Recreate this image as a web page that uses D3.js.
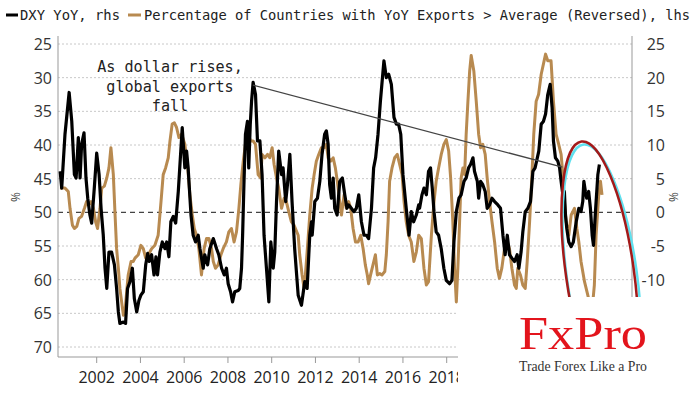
<!DOCTYPE html>
<html>
<head>
<meta charset="utf-8">
<script src="https://cdn.jsdelivr.net/npm/d3@7"></script>
<style>
  body { margin: 0; background: #fff; }
  svg { display: block; }
</style>
</head>
<body>
<svg id="chart" width="700" height="394"></svg>
<script>
/* ---------- data ---------- */
// later years sit under the logo panel in the original
const xTicks = [2002, 2004, 2006, 2008, 2010, 2012, 2014, 2016, 2018];
const leftTicks = [25, 30, 35, 40, 45, 50, 55, 60, 65, 70];
const rightTicks = [25, 20, 15, 10, 5, 0, -5, -10];

// DXY YoY, % (right axis)
const dxy = [
  [2000.33,6.1],[2000.40,3.6],[2000.55,11.6],[2000.74,17.8],[2000.86,13.5],[2000.98,5.6],[2001.06,5.1],
  [2001.16,11.1],[2001.24,5.1],[2001.31,10.1],[2001.42,11.8],[2001.51,5.1],[2001.59,2.1],[2001.69,-0.4],
  [2001.77,-1.6],[2001.89,3.6],[2002.00,8.8],[2002.11,5.6],[2002.20,0.6],[2002.30,-3.4],[2002.38,-8.3],
  [2002.46,-11.3],[2002.56,-5.9],[2002.68,-5.9],[2002.81,-7.8],[2002.91,-11.3],[2002.99,-14.8],[2003.06,-16.5],
  [2003.22,-16.3],[2003.32,-16.5],[2003.41,-11.3],[2003.52,-10.3],[2003.63,-8.3],[2003.72,-12.8],[2003.83,-14.8],
  [2003.93,-13.1],[2004.02,-12.3],[2004.13,-11.8],[2004.24,-7.8],[2004.33,-6.1],[2004.40,-7.3],[2004.51,-6.3],
  [2004.62,-9.3],[2004.71,-6.6],[2004.78,-9.3],[2004.89,-5.9],[2005.00,-4.4],[2005.12,-5.4],[2005.20,-4.4],
  [2005.30,-6.6],[2005.39,-1.4],[2005.50,-0.6],[2005.61,-1.6],[2005.73,3.1],[2005.91,12.6],[2006.03,6.6],
  [2006.11,9.1],[2006.18,6.6],[2006.31,-0.4],[2006.41,-3.4],[2006.52,-4.4],[2006.64,-3.4],[2006.72,-5.4],
  [2006.87,-8.3],[2006.94,-6.3],[2007.07,-7.8],[2007.17,-5.4],[2007.33,-3.9],[2007.48,-5.4],[2007.58,-6.3],
  [2007.71,-8.3],[2007.83,-9.3],[2007.93,-8.3],[2008.01,-10.6],[2008.12,-11.8],[2008.21,-13.3],[2008.31,-11.8],
  [2008.47,-11.6],[2008.54,-11.3],[2008.62,-8.3],[2008.67,-3.4],[2008.73,4.1],[2008.80,11.6],[2008.89,13.5],
  [2008.95,6.6],[2009.02,13.1],[2009.08,16.5],[2009.15,19.3],[2009.26,17.5],[2009.35,10.6],[2009.46,10.6],
  [2009.56,5.6],[2009.65,-3.4],[2009.76,-8.3],[2009.87,-13.3],[2009.96,-4.4],[2010.07,-8.3],[2010.14,-5.9],
  [2010.22,1.6],[2010.32,9.1],[2010.45,5.6],[2010.52,6.6],[2010.64,1.6],[2010.72,4.1],[2010.83,8.6],
  [2010.93,1.6],[2011.05,-5.4],[2011.21,-12.3],[2011.36,-13.8],[2011.51,-10.3],[2011.62,-11.3],[2011.74,-3.4],
  [2011.82,-1.4],[2011.85,-3.4],[2011.97,1.6],[2012.09,2.1],[2012.20,4.6],[2012.30,8.6],[2012.42,11.6],
  [2012.50,12.1],[2012.58,10.1],[2012.65,4.1],[2012.73,2.1],[2012.81,5.1],[2012.88,0.6],[2012.99,-0.4],
  [2013.11,4.6],[2013.23,5.1],[2013.34,2.6],[2013.44,0.6],[2013.52,1.1],[2013.64,0.6],[2013.76,0.1],
  [2013.87,0.6],[2013.98,2.6],[2014.10,-1.4],[2014.22,-3.4],[2014.33,-3.4],[2014.43,-3.9],[2014.56,0.6],
  [2014.66,6.6],[2014.75,8.1],[2014.86,11.6],[2014.97,16.5],[2015.13,22.5],[2015.24,20.0],[2015.35,20.5],
  [2015.47,19.0],[2015.59,14.1],[2015.70,13.1],[2015.80,13.1],[2015.90,11.6],[2016.00,5.6],[2016.15,0.6],
  [2016.28,-3.4],[2016.38,0.1],[2016.49,-1.4],[2016.61,-0.4],[2016.72,1.1],[2016.76,0.6],[2016.87,2.6],
  [2016.96,3.6],[2017.07,2.6],[2017.17,6.1],[2017.26,6.6],[2017.34,3.6],[2017.42,0.1],[2017.52,-2.9],
  [2017.63,-3.4],[2017.75,-5.4],[2017.87,-8.3],[2017.98,-10.1],[2018.13,-10.6],[2018.24,-10.1],[2018.33,-4.4],
  [2018.44,0.1],[2018.56,2.1],[2018.66,2.6],[2018.79,4.6],[2018.89,5.1],[2019.00,6.6],[2019.09,7.1],
  [2019.20,8.1],[2019.27,6.1],[2019.40,4.6],[2019.46,2.1],[2019.55,4.6],[2019.65,4.1],[2019.76,3.1],
  [2019.85,0.6],[2019.96,1.1],[2020.07,2.1],[2020.19,1.6],[2020.34,1.1],[2020.46,0.6],[2020.57,-3.4],
  [2020.67,-6.3],[2020.77,-3.4],[2020.87,-6.3],[2020.98,-6.8],[2021.10,-7.3],[2021.22,-6.3],[2021.30,-8.3],
  [2021.40,-5.9],[2021.48,-2.9],[2021.59,0.1],[2021.71,0.6],[2021.83,1.6],[2021.94,6.1],[2022.04,6.6],
  [2022.21,9.1],[2022.32,13.1],[2022.42,13.5],[2022.52,14.6],[2022.62,17.5],[2022.73,19.0],[2022.82,15.5],
  [2022.88,10.6],[2022.97,8.1],[2023.08,7.6],[2023.16,6.6],[2023.23,4.6],[2023.31,2.6],[2023.38,3.1],
  [2023.43,-0.4],[2023.49,-2.4],[2023.58,-4.4],[2023.69,-5.1],[2023.79,-4.4],[2023.92,-1.4],[2024.04,0.6],
  [2024.14,0.1],[2024.22,1.6],[2024.27,4.6],[2024.34,3.1],[2024.40,2.1],[2024.49,3.1],[2024.57,0.6],
  [2024.65,-3.4],[2024.71,-4.9],[2024.80,0.1],[2024.91,5.6],[2024.98,7.1]
];

// % of countries with YoY exports > average, reversed (left axis)
const exportsRev = [
  [2000.32,46.4],[2000.55,46.4],[2000.70,46.9],[2000.78,49.4],[2000.89,51.9],[2000.98,52.4],[2001.09,52.1],
  [2001.19,50.9],[2001.31,50.6],[2001.44,49.4],[2001.54,48.4],[2001.62,48.9],[2001.74,48.4],[2001.85,49.4],
  [2001.95,51.4],[2002.04,52.4],[2002.15,49.4],[2002.23,46.4],[2002.35,46.1],[2002.46,44.9],[2002.56,43.4],
  [2002.65,40.4],[2002.76,44.4],[2002.84,50.4],[2002.91,55.4],[2002.99,58.3],[2003.06,61.3],[2003.14,63.3],
  [2003.22,65.3],[2003.29,64.8],[2003.37,61.8],[2003.44,59.3],[2003.57,57.3],[2003.67,57.3],[2003.75,56.8],
  [2003.90,56.3],[2004.02,54.9],[2004.13,55.4],[2004.24,56.8],[2004.36,56.3],[2004.51,55.4],[2004.66,54.9],
  [2004.81,53.4],[2004.94,48.4],[2005.04,44.4],[2005.15,43.4],[2005.27,41.9],[2005.35,39.4],[2005.45,36.9],
  [2005.55,36.7],[2005.65,37.4],[2005.76,38.9],[2005.88,38.4],[2006.03,39.9],[2006.15,42.9],[2006.26,47.4],
  [2006.37,50.4],[2006.46,52.4],[2006.56,53.4],[2006.67,55.4],[2006.79,59.3],[2006.91,55.4],[2007.02,53.9],
  [2007.13,53.9],[2007.25,55.4],[2007.33,57.3],[2007.43,58.3],[2007.55,57.8],[2007.68,56.3],[2007.78,55.4],
  [2007.93,54.4],[2008.04,52.9],[2008.16,52.4],[2008.28,54.4],[2008.39,52.9],[2008.50,49.4],[2008.59,45.9],
  [2008.70,42.4],[2008.80,39.9],[2008.92,38.4],[2009.04,39.4],[2009.15,39.4],[2009.26,39.9],[2009.38,44.4],
  [2009.50,44.9],[2009.56,41.4],[2009.69,41.9],[2009.81,41.4],[2009.91,41.9],[2010.02,40.4],[2010.11,42.9],
  [2010.22,44.9],[2010.32,46.4],[2010.45,49.4],[2010.57,47.9],[2010.67,48.4],[2010.78,49.9],[2010.90,51.4],
  [2011.02,51.9],[2011.21,53.4],[2011.28,56.3],[2011.39,59.3],[2011.48,61.3],[2011.54,59.3],[2011.63,55.4],
  [2011.74,50.4],[2011.85,46.4],[2011.94,44.4],[2012.04,42.4],[2012.15,41.4],[2012.27,40.4],[2012.40,40.4],
  [2012.50,39.9],[2012.58,41.9],[2012.70,42.4],[2012.81,41.9],[2012.91,43.4],[2013.00,45.4],[2013.11,48.4],
  [2013.19,50.4],[2013.31,47.4],[2013.41,49.4],[2013.52,48.4],[2013.61,49.4],[2013.72,52.4],[2013.83,54.4],
  [2013.95,54.4],[2014.07,53.4],[2014.18,55.4],[2014.28,57.8],[2014.37,59.3],[2014.43,60.6],[2014.52,59.3],
  [2014.63,57.8],[2014.74,56.3],[2014.83,59.3],[2014.94,59.1],[2015.04,59.3],[2015.17,58.8],[2015.24,56.3],
  [2015.32,51.4],[2015.39,45.4],[2015.50,43.4],[2015.62,41.9],[2015.74,41.4],[2015.85,42.9],[2015.96,44.4],
  [2016.05,48.4],[2016.15,51.4],[2016.26,53.4],[2016.38,54.4],[2016.50,57.3],[2016.61,55.9],[2016.72,53.4],
  [2016.84,53.9],[2016.96,58.3],[2017.07,60.8],[2017.17,60.3],[2017.30,53.4],[2017.42,48.4],[2017.52,45.4],
  [2017.63,43.4],[2017.75,41.4],[2017.87,39.9],[2017.98,39.2],[2018.09,40.9],[2018.18,44.9],[2018.28,51.4],
  [2018.36,58.3],[2018.44,63.3],[2018.51,58.3],[2018.59,51.4],[2018.66,44.9],[2018.74,43.4],[2018.82,44.4],
  [2018.89,38.4],[2018.97,33.5],[2019.05,29.0],[2019.12,26.7],[2019.24,29.0],[2019.35,33.5],[2019.46,38.4],
  [2019.55,40.4],[2019.65,39.9],[2019.76,41.4],[2019.85,44.9],[2019.96,48.4],[2020.07,51.4],[2020.19,54.4],
  [2020.31,58.3],[2020.41,59.8],[2020.52,58.3],[2020.64,55.4],[2020.77,54.4],[2020.87,55.4],[2020.98,58.3],
  [2021.10,60.8],[2021.18,61.3],[2021.25,58.3],[2021.37,59.3],[2021.48,60.8],[2021.59,61.3],[2021.68,57.3],
  [2021.79,51.4],[2021.89,44.9],[2021.98,38.4],[2022.09,33.5],[2022.20,32.5],[2022.32,29.5],[2022.52,26.5],
  [2022.62,27.5],[2022.77,27.5],[2022.88,33.5],[2023.00,38.4],[2023.12,39.9],[2023.23,41.4],[2023.31,44.4],
  [2023.38,48.4],[2023.46,51.4],[2023.58,53.4],[2023.69,50.4],[2023.84,49.4],[2023.95,52.4],[2024.04,54.4],
  [2024.14,57.3],[2024.30,60.3],[2024.45,62.3],[2024.52,63.3],[2024.60,65.3],[2024.68,63.3],[2024.75,60.8],
  [2024.83,53.4],[2024.95,47.4],[2025.03,45.4],[2025.10,47.4]
];

// annotation: arrow from 2009 DXY peak to 2023, in lhs units
const trendLine = [[2009.14, 31.1], [2023.29, 43.3]];
const noteLines = ['As dollar rises,', 'global exports', 'fall'];
const legendItems = [
  { label: 'DXY YoY, rhs', color: '#000' },
  { label: 'Percentage of Countries with YoY Exports > Average (Reversed), lhs', color: '#b88a50' }
];

/* ---------- layout ---------- */
const plot = { left: 58, right: 632, top: 36, bottom: 357 };
const MONO = '"DejaVu Sans Mono", monospace';
const SANS = '"Open Sans", "Noto Sans", sans-serif';

const x = d3.scaleLinear().domain([2002, 2018]).range([96.7, 446.7]);
const yL = d3.scaleLinear().domain([25, 70]).range([44, 347]);
const yR = d3.scaleLinear().domain([25, -10]).range([yL(25), yL(60)]);

const svg = d3.select('#chart');

// gridlines
svg.append('g').selectAll('line')
  .data(leftTicks).enter().append('line')
    .attr('x1', plot.left).attr('x2', plot.right)
    .attr('y1', d => yL(d)).attr('y2', d => yL(d))
    .attr('stroke', d => d === 50 ? '#444' : '#c8c8c8')
    .attr('stroke-width', d => d === 50 ? 1.2 : 1)
    .attr('stroke-dasharray', d => d === 50 ? '5,4' : '2,2');

// axes lines
svg.append('line').attr('x1', plot.left).attr('x2', plot.left)
  .attr('y1', plot.top).attr('y2', plot.bottom).attr('stroke', '#999');
svg.append('line').attr('x1', plot.right).attr('x2', plot.right)
  .attr('y1', plot.top).attr('y2', 297).attr('stroke', '#999');
svg.append('line').attr('x1', plot.left).attr('x2', plot.right)
  .attr('y1', plot.bottom).attr('y2', plot.bottom).attr('stroke', '#999');

// left tick labels
svg.append('g').selectAll('text')
  .data(leftTicks).enter().append('text')
    .attr('x', 52).attr('y', d => yL(d) + 6)
    .attr('text-anchor', 'end')
    .attr('font-family', SANS).attr('font-size', 16)
    .attr('fill', '#333')
    .text(d => d);

// right tick labels
svg.append('g').selectAll('text')
  .data(rightTicks).enter().append('text')
    .attr('x', 665).attr('y', d => yR(d) + 6)
    .attr('text-anchor', 'end')
    .attr('font-family', SANS).attr('font-size', 16)
    .attr('fill', '#333')
    .text(d => d < 0 ? '-' + Math.abs(d) : d);

// x ticks + labels
const xg = svg.append('g');
xg.selectAll('line')
  .data(xTicks).enter().append('line')
    .attr('x1', d => x(d)).attr('x2', d => x(d))
    .attr('y1', plot.bottom).attr('y2', plot.bottom + 6)
    .attr('stroke', '#999');
xg.selectAll('text')
  .data(xTicks).enter().append('text')
    .attr('x', d => x(d)).attr('y', 383)
    .attr('text-anchor', 'middle')
    .attr('font-family', SANS).attr('font-size', 16)
    .attr('fill', '#222')
    .text(d => d);

// unit labels
[[20, 197], [678, 197]].forEach(([px, py]) => {
  svg.append('text')
    .attr('transform', `translate(${px},${py}) rotate(-90)`)
    .attr('text-anchor', 'middle')
    .attr('font-family', SANS).attr('font-size', 12)
    .attr('fill', '#444')
    .text('%');
});

// series
const lineL = d3.line().x(d => x(d[0])).y(d => yL(d[1]));
const lineR = d3.line().x(d => x(d[0])).y(d => yR(d[1]));

svg.append('path')
  .datum(exportsRev)
  .attr('d', lineL)
  .attr('fill', 'none')
  .attr('stroke', legendItems[1].color)
  .attr('stroke-width', 3)
  .attr('stroke-linejoin', 'round');

svg.append('path')
  .datum(dxy)
  .attr('d', lineR)
  .attr('fill', 'none')
  .attr('stroke', legendItems[0].color)
  .attr('stroke-width', 3.2)
  .attr('stroke-linejoin', 'round');

// trend annotation
svg.append('line')
  .attr('x1', x(trendLine[0][0])).attr('y1', yL(trendLine[0][1]))
  .attr('x2', x(trendLine[1][0])).attr('y2', yL(trendLine[1][1]))
  .attr('stroke', '#444').attr('stroke-width', 1.3);

svg.append('g').selectAll('text')
  .data(noteLines).enter().append('text')
    .attr('x', 170).attr('y', (d, i) => 72 + i * 19.5)
    .attr('text-anchor', 'middle')
    .attr('font-family', MONO).attr('font-size', 16)
    .attr('fill', '#222')
    .attr('textLength', d => d.length * 9.1)
    .attr('lengthAdjust', 'spacingAndGlyphs')
    .text(d => d);

// highlight ellipses
const ec = [x(2025.0), yL(58.9)];
svg.append('ellipse')
  .attr('transform', `translate(${ec[0] + 2},${ec[1] + 3}) rotate(-8)`)
  .attr('rx', 35).attr('ry', 132)
  .attr('fill', 'none').attr('stroke', '#5fe0ee').attr('stroke-width', 2.5);
svg.append('ellipse')
  .attr('transform', `translate(${ec[0]},${ec[1]}) rotate(-8)`)
  .attr('rx', 34).attr('ry', 132)
  .attr('fill', 'none').attr('stroke', '#a31a1a').attr('stroke-width', 2.5);

// legend
const lg = svg.append('g');
lg.append('line').attr('x1', 6).attr('x2', 18).attr('y1', 15).attr('y2', 15)
  .attr('stroke', legendItems[0].color).attr('stroke-width', 3);
lg.append('text').attr('x', 20).attr('y', 20)
  .attr('font-family', MONO).attr('font-size', 14).attr('fill', '#222')
  .attr('textLength', 100).attr('lengthAdjust', 'spacingAndGlyphs')
  .text(legendItems[0].label);
lg.append('line').attr('x1', 128).attr('x2', 141).attr('y1', 15).attr('y2', 15)
  .attr('stroke', legendItems[1].color).attr('stroke-width', 3);
lg.append('text').attr('x', 144).attr('y', 20)
  .attr('font-family', MONO).attr('font-size', 14).attr('fill', '#222')
  .attr('textLength', 546).attr('lengthAdjust', 'spacingAndGlyphs')
  .text(legendItems[1].label);

// FxPro logo panel
svg.append('rect').attr('x', 458).attr('y', 297).attr('width', 242).attr('height', 97)
  .attr('fill', '#fff');
svg.append('text').attr('x', 519).attr('y', 349)
  .attr('font-family', '"Liberation Serif", serif').attr('font-size', 46)
  .attr('fill', '#e3141c')
  .attr('textLength', 128).attr('lengthAdjust', 'spacingAndGlyphs')
  .text('FxPro');
svg.append('text').attr('x', 519).attr('y', 371)
  .attr('font-family', '"Liberation Serif", serif').attr('font-size', 14)
  .attr('fill', '#333')
  .attr('textLength', 128).attr('lengthAdjust', 'spacingAndGlyphs')
  .text('Trade Forex Like a Pro');
</script>
</body>
</html>
